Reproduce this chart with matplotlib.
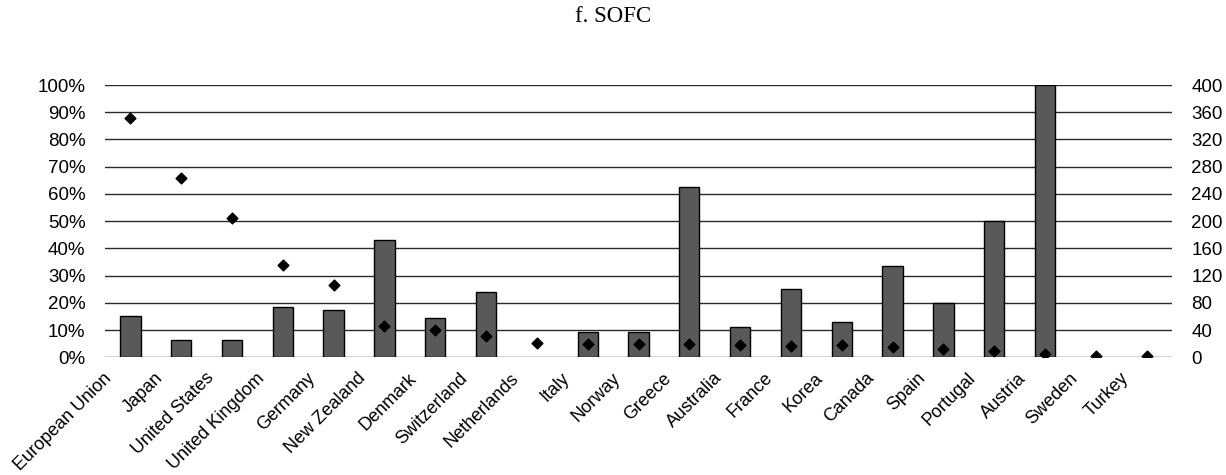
import matplotlib
matplotlib.use("Agg")
import matplotlib.pyplot as plt
from matplotlib.ticker import FuncFormatter
from matplotlib.transforms import ScaledTranslation

countries = ["European Union", "Japan", "United States", "United Kingdom", "Germany",
             "New Zealand", "Denmark", "Switzerland", "Netherlands", "Italy", "Norway",
             "Greece", "Australia", "France", "Korea", "Canada", "Spain", "Portugal",
             "Austria", "Sweden", "Turkey"]
share_pct = [15.0, 6.4, 6.2, 18.3, 17.3, 43.0, 14.4, 23.8, 0.0, 9.3, 9.3,
             62.5, 11.2, 25.0, 12.8, 33.5, 20.0, 50.0, 100.0, 0.0, 0.0]
counts = [351, 263, 204, 135, 106, 46, 40, 32, 21, 20, 20,
          19, 18, 17, 18, 15, 12, 9, 5, 2, 2]
left_ticks = list(range(0, 101, 10))
right_ticks = list(range(0, 401, 40))
title = "f. SOFC"

plt.rcParams['font.family'] = ['Liberation Sans', 'DejaVu Sans']

fig = plt.figure(figsize=(12.26, 4.75), dpi=100)
ax = fig.add_axes([105/1226, 1-357.3/475, (1172-105)/1226, (357.3-85)/475])
x = list(range(len(countries)))

for t in left_ticks:
    ax.axhline(t, color='#2a2a2a', lw=1.0, zorder=1)
bars = ax.bar(x, share_pct, width=0.4, color='#595959', edgecolor='black', linewidth=1.0, zorder=2)
for b, v in zip(bars, share_pct):
    if v == 0:
        b.set_visible(False)
ax.set_ylim(0, 100)
ax.set_xlim(-0.5, len(countries) - 0.5)
ax.set_yticks(left_ticks)
ax.yaxis.set_major_formatter(FuncFormatter(lambda v, p: f"{int(v)}%"))
ax.set_xticks(x)
ax.set_xticklabels(countries, rotation=45, ha='right', va='top')
ax.tick_params(axis='x', length=0, pad=6, labelsize=13)
ax.tick_params(axis='y', length=0, pad=14, labelsize=13.5)
shift = ScaledTranslation(-15/100, -4/100, fig.dpi_scale_trans)
for lab in ax.get_xticklabels():
    lab.set_transform(lab.get_transform() + shift)
for s in ax.spines.values():
    s.set_visible(False)

ax2 = ax.twinx()
ax2.scatter(x, counts, marker='D', s=30, color='black', zorder=3)
ax2.set_ylim(0, 400)
ax2.set_yticks(right_ticks)
ax2.tick_params(axis='y', length=0, pad=14, labelsize=13.5)
for s in ax2.spines.values():
    s.set_visible(False)

fig.text(0.5, 1-17/475, title, ha='center', va='center', fontsize=16.5,
         family=['Liberation Serif', 'DejaVu Serif'])

fig.savefig("out.png", dpi=100)
